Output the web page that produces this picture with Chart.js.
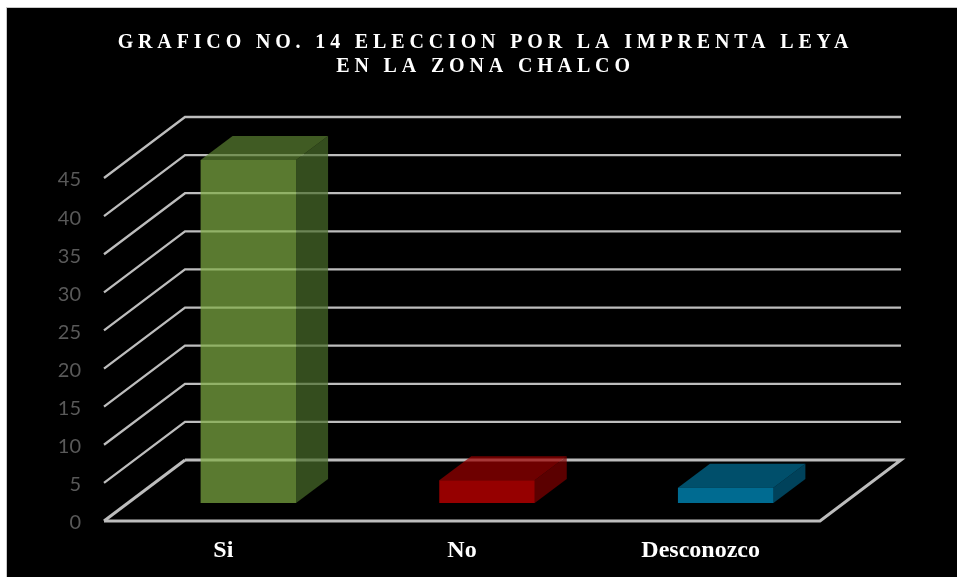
<!DOCTYPE html>
<html lang="es">
<head>
    <meta charset="UTF-8">
    <title>Grafico No. 14</title>
    <script src="https://cdn.jsdelivr.net/npm/chart.js"></script>
    <style>
        html, body { margin: 0; padding: 0; background: #fff; overflow: hidden; }
        #box { position: absolute; left: 6px; top: 7px; width: 950px; height: 569px; background: #000; border-left: 1px solid #c8c8c8; border-top: 1px solid #c8c8c8; }
    </style>
</head>
<body>
    <div id="box"><canvas id="grafico" width="950" height="569"></canvas></div>

    <script>
        // Datos
        const categorias = ['Si', 'No', 'Desconozco'];
        const valores = [45, 3, 2];
        const titulo = ['GRAFICO NO. 14 ELECCION POR LA IMPRENTA LEYA', 'EN LA ZONA CHALCO'];
        // Colores semitransparentes: las lineas del fondo se ven a traves de las barras
        const colorFrente = ['#80ae44b3', '#d60000b3', '#0099ceb3'];
        const colorArriba = ['#5b8132b3', '#9d0000b3', '#007199b3'];
        const colorLado = ['#4a6e2bb3', '#810000b3', '#005e81b3'];

        // Profundidad de la pared del fondo y de las barras
        const fondoX = 81, fondoY = -61;
        const barraX = 32, barraY = -24;
        const corrX = 25, corrY = -18;

        function linea(ctx, puntos, ancho) {
            ctx.beginPath();
            ctx.lineWidth = ancho;
            puntos.forEach((p, i) => i ? ctx.lineTo(p[0], p[1]) : ctx.moveTo(p[0], p[1]));
            ctx.stroke();
        }

        function cara(ctx, puntos, color) {
            ctx.beginPath();
            puntos.forEach((p, i) => i ? ctx.lineTo(p[0], p[1]) : ctx.moveTo(p[0], p[1]));
            ctx.closePath();
            ctx.fillStyle = color;
            ctx.fill();
        }

        const efecto3d = {
            id: 'efecto3d',
            beforeDraw(chart) {
                // el titulo lleva letras espaciadas y va centrado en todo el lienzo
                const t = chart.titleBlock;
                if (t.dibujoOriginal) return;
                t.dibujoOriginal = t.draw;
                t.draw = function () {
                    const ctx = chart.ctx;
                    ctx.save();
                    ctx.letterSpacing = '4.85px';
                    ctx.translate(72, 0);
                    t.dibujoOriginal();
                    ctx.restore();
                };
            },
            beforeDatasetsDraw(chart) {
                const ctx = chart.ctx;
                const { left, right } = chart.chartArea;
                const y = chart.scales.y;

                // lineas de division: diagonal lateral y pared del fondo
                ctx.save();
                ctx.strokeStyle = '#bdbdbd';
                y.ticks.forEach(t => {
                    if (t.value === 0) return;
                    const py = y.getPixelForValue(t.value);
                    linea(ctx, [[left, py], [left + fondoX, py + fondoY], [right + fondoX, py + fondoY]], 2.3);
                });
                const py0 = y.getPixelForValue(0);
                linea(ctx, [[left, py0], [right, py0], [right + fondoX, py0 + fondoY], [left + fondoX, py0 + fondoY]], 3);
                linea(ctx, [[left, py0], [left + fondoX, py0 + fondoY]], 3);
                ctx.restore();

                // las barras van corridas hacia el centro del piso
                ctx.save();
                ctx.translate(corrX, corrY);
                chart.getDatasetMeta(0).data.forEach((b, i) => {
                    const x0 = b.x - b.width / 2, x1 = b.x + b.width / 2;
                    cara(ctx, [[x0, b.y], [x1, b.y], [x1 + barraX, b.y + barraY], [x0 + barraX, b.y + barraY]], colorArriba[i]);
                    cara(ctx, [[x1, b.y], [x1 + barraX, b.y + barraY], [x1 + barraX, b.base + barraY], [x1, b.base]], colorLado[i]);
                });
                ctx.restore();

                ctx.save();
                ctx.translate(corrX, corrY);
            },
            afterDatasetsDraw(chart) {
                chart.ctx.restore();
            }
        };

        new Chart(document.getElementById('grafico'), {
            type: 'bar',
            plugins: [efecto3d],
            data: {
                labels: categorias,
                datasets: [{
                    data: valores,
                    backgroundColor: colorFrente,
                    borderWidth: 0,
                    barPercentage: 0.4,
                    categoryPercentage: 1
                }]
            },
            options: {
                responsive: false,
                animation: false,
                layout: { padding: { right: 137 } },
                plugins: {
                    legend: { display: false },
                    tooltip: { enabled: false },
                    title: {
                        display: true,
                        text: titulo,
                        color: '#ffffff',
                        font: { family: '"Liberation Serif"', size: 20, weight: 'bold', lineHeight: 1.2 },
                        padding: { top: 23, bottom: 99 }
                    }
                },
                scales: {
                    x: {
                        grid: { display: false },
                        border: { display: false },
                        ticks: { color: '#ffffff', padding: 7, font: { family: '"Liberation Serif"', size: 24, weight: 'bold' } },
                        afterFit(scale) { scale.height = 56; }
                    },
                    y: {
                        min: 0,
                        max: 45,
                        grid: { display: false },
                        border: { display: false },
                        ticks: { stepSize: 5, color: '#595959', padding: 15, labelOffset: 2, font: { family: 'Lato', size: 20 } },
                        afterFit(scale) { scale.width = 97; }
                    }
                }
            }
        });
    </script>
</body>
</html>
